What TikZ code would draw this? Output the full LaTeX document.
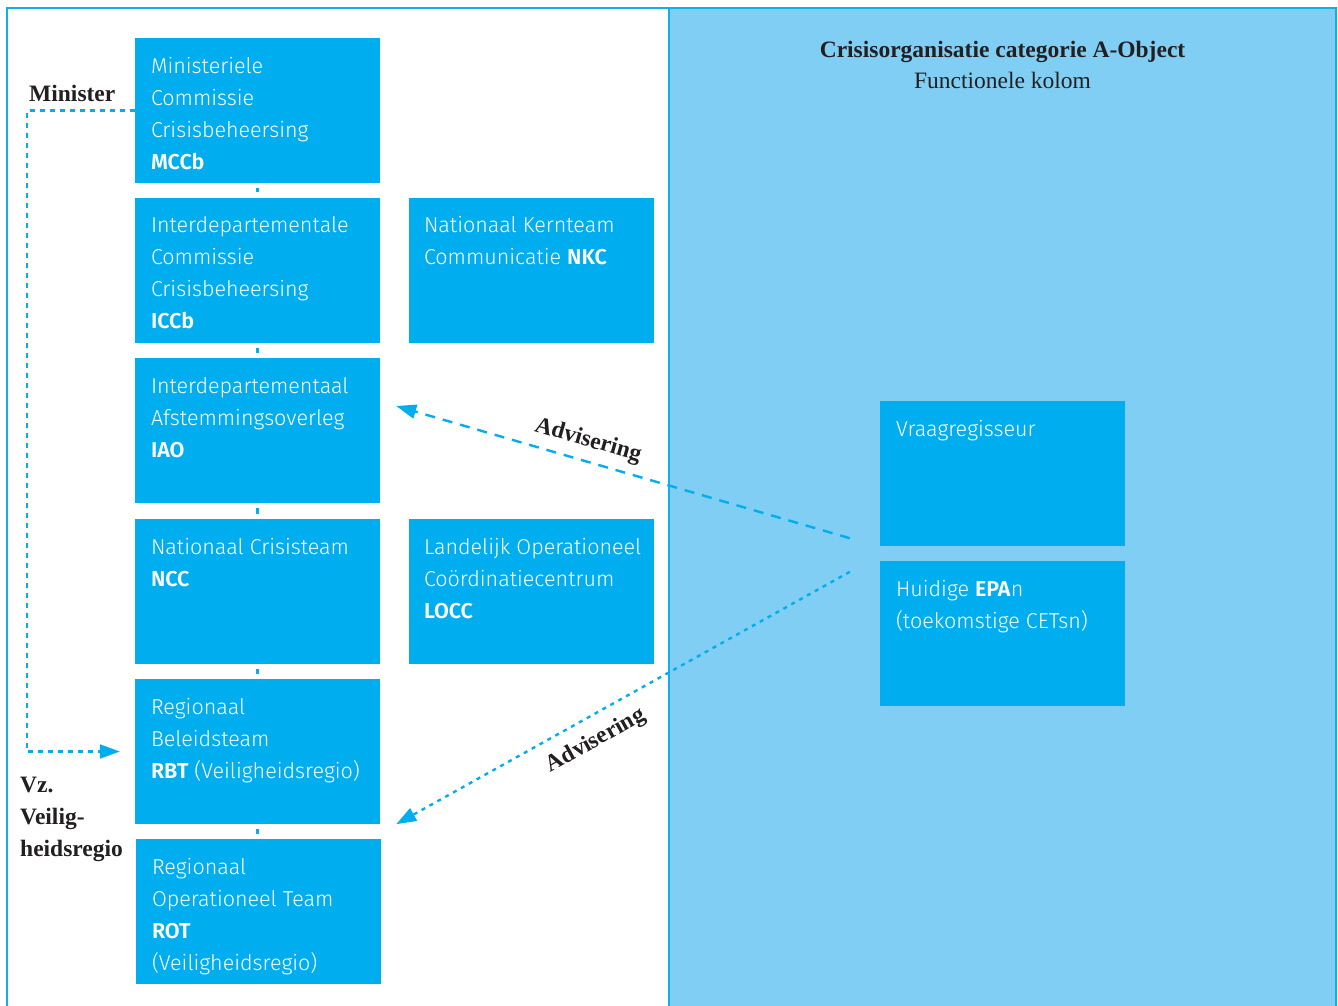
\documentclass[tikz,border=0pt]{standalone}
\usepackage{fontspec}
\setmainfont{Liberation Serif}
\setsansfont{Fira Sans}[UprightFont={* Light}, BoldFont={* SemiBold}]
\usetikzlibrary{arrows.meta,calc}
\definecolor{boxblue}{HTML}{00AEEF}
\definecolor{panelblue}{HTML}{80CEF3}
\definecolor{framblue}{HTML}{12AEEA}
\definecolor{inkdark}{HTML}{231F20}
\tikzset{
  orgbox/.style={rectangle, fill=boxblue, draw=none, minimum width=245pt, minimum height=145pt, inner sep=0pt},
  btext/.style={anchor=north west, inner sep=0pt, align=left, text=white, font=\sffamily\fontsize{21.5}{32}\selectfont},
  slabel/.style={inner sep=0pt, text=inkdark, font=\rmfamily\bfseries\fontsize{23.5}{32}\selectfont},
  tickline/.style={draw=boxblue, line width=2.2pt, shorten >=5pt, shorten <=5pt},
  minline/.style={draw=boxblue, line width=2.2pt, dash pattern=on 5pt off 5pt, -{Triangle[length=20pt,width=14pt]}},
  advdash/.style={draw=boxblue, line width=2.4pt, dash pattern=on 10pt off 8pt, -{Triangle[length=20pt,width=14pt]}},
  advdot/.style={draw=boxblue, line width=2.4pt, dash pattern=on 4pt off 5pt, -{Triangle[length=20pt,width=14pt]}},
}
\newcommand{\strt}{\rule{0pt}{24pt}}
\begin{document}
\begin{tikzpicture}[x=1pt,y=-1pt]
\useasboundingbox (0,0) rectangle (1338,1005);
\fill[white] (0,0) rectangle (1338,1005);
% frame
\fill[panelblue] (669,8) rectangle (1336,1010);
\draw[framblue, line width=2.2pt] (7,1010) -- (7,8) -- (1336,8) -- (1336,1010);
\draw[framblue, line width=2.2pt] (669,8) -- (669,1010);

% header
\node[anchor=north, inner sep=0pt, align=center, text=inkdark, font=\rmfamily\fontsize{23.5}{31}\selectfont] (head) at (1002.5,33)
  {\strt\textbf{Crisisorganisatie categorie A-Object}\\Functionele kolom};

% left column boxes
\node[orgbox] (mccb) at (257.5,110.5) {};
\node[orgbox] (iccb) at (257.5,270) {};
\node[orgbox] (iao)  at (257.5,430.5) {};
\node[orgbox] (ncc)  at (257.5,591.5) {};
\node[orgbox] (rbt)  at (257.5,751.5) {};
\node[orgbox] (rot)  at (258.5,911.5) {};
% middle column
\node[orgbox] (nkc)  at (531.5,270) {};
\node[orgbox] (locc) at (531.5,591.5) {};
% right column
\node[orgbox] (vraag) at (1002.5,473.5) {};
\node[orgbox] (epa)   at (1002.5,633.5) {};

% texts
\node[btext] (mccbt) at ($(mccb.north west)+(16,11)$) {\strt Ministeriele\\Commissie\\Crisisbeheersing\\\textbf{MCCb}};
\node[btext] (iccbt) at ($(iccb.north west)+(16,11)$) {\strt Interdepartementale\\Commissie\\Crisisbeheersing\\\textbf{ICCb}};
\node[btext] (iaot) at ($(iao.north west)+(16,11)$) {\strt Interdepartementaal\\Afstemmingsoverleg\\\textbf{IAO}};
\node[btext] (ncct) at ($(ncc.north west)+(16,11)$) {\strt Nationaal Crisisteam\\\textbf{NCC}};
\node[btext] (rbtt) at ($(rbt.north west)+(16,11)$) {\strt Regionaal\\Beleidsteam\\\textbf{RBT} (Veiligheidsregio)};
\node[btext] (rott) at ($(rot.north west)+(16,11)$) {\strt Regionaal\\Operationeel Team\\\textbf{ROT}\\(Veiligheidsregio)};
\node[btext] (nkct) at ($(nkc.north west)+(15,11)$) {\strt Nationaal Kernteam\\Communicatie \textbf{NKC}};
\node[btext] (locct) at ($(locc.north west)+(15,11)$) {\strt Landelijk Operationeel\\Coördinatiecentrum\\\textbf{LOCC}};
\node[btext] (vraagt) at ($(vraag.north west)+(16,11)$) {\strt Vraagregisseur};
\node[btext] (epat) at ($(epa.north west)+(16,11)$) {\strt Huidige \textbf{EPA}n\\(toekomstige CETsn)};

% vertical ticks between boxes
\draw[tickline] (mccb.south) -- (iccb.north);
\draw[tickline] (iccb.south) -- (iao.north);
\draw[tickline] (iao.south) -- (ncc.north);
\draw[tickline] (ncc.south) -- (rbt.north);
\draw[tickline] (rbt.south) -- (rbt.south |- rot.north);

% Minister line
\coordinate (mtop) at (27,110.5);
\coordinate (mbot) at (27,751.5);
\draw[minline] (mccb.west) -- (mtop) -- (mbot) -- ([xshift=-15pt]rbt.west);
\node[slabel, anchor=base west] (minister) at (29,101) {Minister};
\node[slabel, anchor=north west, align=left] (vz) at (20,768) {\strt Vz.\\Veilig-\\heidsregio};

% Advisering arrows
\coordinate (advAstart) at ($(vraag.south west)+(-30,-8)$);
\coordinate (advAend) at ($(iao.east)+(16,-24.5)$);
\coordinate (advBstart) at ($(epa.north west)+(-30,11)$);
\coordinate (advBend) at ($(rbt.south east)+(16,0)$);
\draw[advdash] (advAstart) -- (advAend);
\draw[advdot] (advBstart) -- (advBend);
\node[slabel, rotate=-16] (advA) at (588,441) {Advisering};
\node[slabel, rotate=29] (advB) at (596,741) {Advisering};
\end{tikzpicture}
\end{document}
